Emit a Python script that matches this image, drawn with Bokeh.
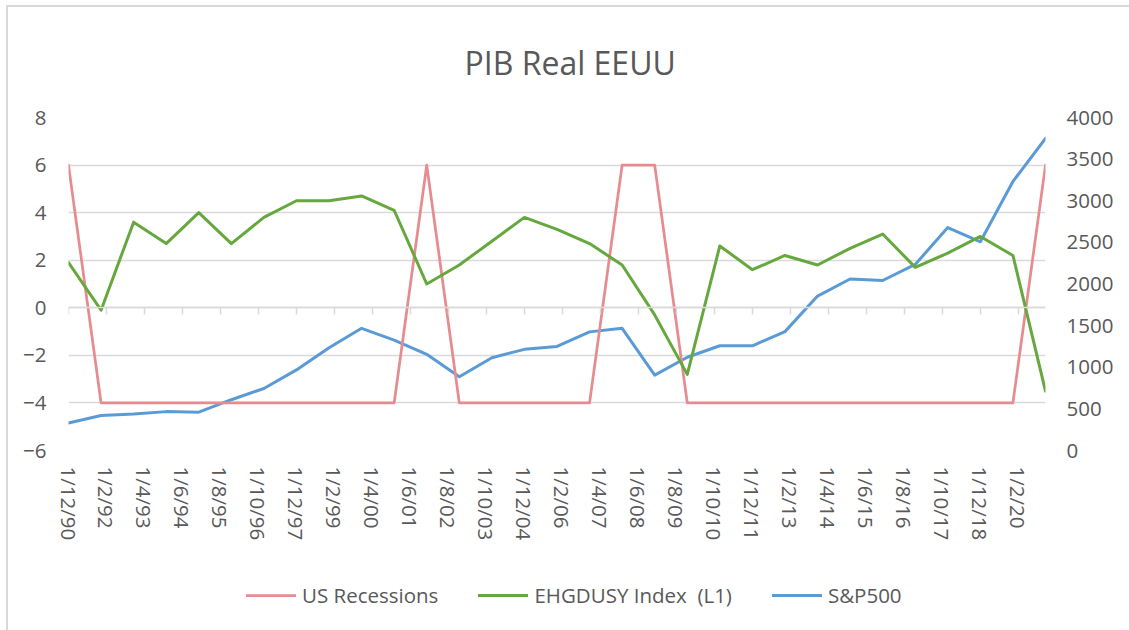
from bokeh.plotting import figure
from bokeh.layouts import column
from bokeh.models import (Range1d, LinearAxis, FixedTicker, Legend, LegendItem)
from bokeh.embed import file_html
from bokeh.resources import INLINE

# ---------------- data ----------------
fechas = ["1/12/90", "1/12/91", "1/12/92", "1/12/93", "1/12/94", "1/12/95", "1/12/96",
          "1/12/97", "1/12/98", "1/12/99", "1/12/00", "1/12/01", "1/12/02", "1/12/03",
          "1/12/04", "1/12/05", "1/12/06", "1/12/07", "1/12/08", "1/12/09", "1/12/10",
          "1/12/11", "1/12/12", "1/12/13", "1/12/14", "1/12/15", "1/12/16", "1/12/17",
          "1/12/18", "1/12/19", "1/12/20"]

us_recessions = [6, -4, -4, -4, -4, -4, -4, -4, -4, -4, -4, 6, -4, -4, -4, -4, -4, 6, 6,
                 -4, -4, -4, -4, -4, -4, -4, -4, -4, -4, -4, 6]

ehgdusy = [1.9, -0.1, 3.6, 2.7, 4.0, 2.7, 3.8, 4.5, 4.5, 4.7, 4.1, 1.0, 1.8, 2.8, 3.8,
           3.3, 2.7, 1.8, -0.3, -2.8, 2.6, 1.6, 2.2, 1.8, 2.5, 3.1, 1.7, 2.3, 3.0, 2.2, -3.5]

sp500 = [330, 420, 438, 467, 460, 610, 745, 968, 1235, 1468, 1325, 1155, 885, 1115, 1215,
         1250, 1425, 1468, 905, 1120, 1258, 1258, 1428, 1855, 2060, 2042, 2235, 2678,
         2507, 3231, 3750]

series_names = ["US Recessions", "EHGDUSY Index  (L1)", "S&P500"]

tick_labels = ["1/12/90", "1/2/92", "1/4/93", "1/6/94", "1/8/95", "1/10/96", "1/12/97",
               "1/2/99", "1/4/00", "1/6/01", "1/8/02", "1/10/03", "1/12/04", "1/2/06",
               "1/4/07", "1/6/08", "1/8/09", "1/10/10", "1/12/11", "1/2/13", "1/4/14",
               "1/6/15", "1/8/16", "1/10/17", "1/12/18", "1/2/20"]

left_ticks = [-6, -4, -2, 0, 2, 4, 6, 8]
right_ticks = [0, 500, 1000, 1500, 2000, 2500, 3000, 3500, 4000]

TITLE = "PIB Real EEUU"
FONT = "Open Sans"
TXT = "#595959"
GRID = "#d9d9d9"
FS = "20.5px"

STYLE_REC = dict(line_color="#e68c90", line_width=2.75, line_join="round", line_cap="round")
STYLE_GDP = dict(line_color="#66a83d", line_width=3, line_join="round", line_cap="round")
STYLE_SP = dict(line_color="#5b9bd5", line_width=3, line_join="round", line_cap="round")


def month_index(s):
    d, m, yy = [int(t) for t in s.split("/")]
    year = 1900 + yy if yy >= 50 else 2000 + yy
    return (year - 1990) * 12 + (m - 12)


x = [month_index(f) for f in fechas]
tick_pos = [month_index(t) for t in tick_labels]

# ---------------- main figure ----------------
p = figure(width=1121, height=553, output_backend="svg", toolbar_location=None,
           x_range=Range1d(x[0], x[-1]), y_range=Range1d(-6, 8),
           min_border_left=60, min_border_right=84, min_border_top=110,
           min_border_bottom=110)
p.outline_line_color = None
p.background_fill_color = "white"
p.border_fill_color = "white"

p.extra_y_ranges = {"sp": Range1d(0, 4000)}

# title
p.title.text = TITLE
p.title.align = "left"
p.title.offset = 396
p.title.vertical_align = "top"
p.title.standoff = 64
p.title.text_font = FONT
p.title.text_font_size = "32px"
p.title.text_font_style = "normal"
p.title.text_color = TXT

# grids
p.xgrid.visible = False
p.ygrid.ticker = FixedTicker(ticks=left_ticks)
p.ygrid.grid_line_color = GRID
p.ygrid.grid_line_width = 1.5

# label x-axis (bottom)
xa = p.xaxis[0]
xa.ticker = FixedTicker(ticks=tick_pos)
xa.major_label_overrides = {tp: lab for tp, lab in zip(tick_pos, tick_labels)}
xa.major_label_orientation = "vertical"
xa.axis_line_color = None
xa.major_tick_line_color = None
xa.minor_tick_line_color = None
xa.major_tick_out = 0
xa.major_tick_in = 0
xa.major_label_standoff = 16
xa.major_label_text_font = FONT
xa.major_label_text_font_size = FS
xa.major_label_text_color = TXT

# left axis
ya = p.yaxis[0]
ya.ticker = FixedTicker(ticks=left_ticks)
ya.axis_line_color = None
ya.major_tick_line_color = None
ya.minor_tick_line_color = None
ya.major_tick_out = 0
ya.major_tick_in = 0
ya.major_label_standoff = 22
ya.major_label_text_font = FONT
ya.major_label_text_font_size = FS
ya.major_label_text_color = TXT

# right axis
ra = LinearAxis(y_range_name="sp", ticker=FixedTicker(ticks=right_ticks),
                axis_line_color=None, major_tick_line_color=None,
                minor_tick_line_color=None, major_tick_out=0, major_tick_in=0,
                major_label_standoff=21, major_label_text_font=FONT,
                major_label_text_font_size=FS, major_label_text_color=TXT)
p.add_layout(ra, "right")

# horizontal axis line crossing at 0 with tick marks
za = LinearAxis(fixed_location=0, ticker=FixedTicker(ticks=tick_pos),
                axis_line_color=GRID, axis_line_width=1.5,
                major_tick_line_color=GRID, major_tick_line_width=1.5,
                major_tick_in=0, major_tick_out=7, minor_tick_line_color=None,
                major_label_text_alpha=0, major_label_text_font_size="1px")
p.add_layout(za, "below")

# series (drawing order: S&P500, recessions, GDP on top)
p.line(x, sp500, y_range_name="sp", **STYLE_SP)
p.line(x, us_recessions, **STYLE_REC)
p.line(x, ehgdusy, **STYLE_GDP)

# ---------------- legend strip (series drawn off-range, only legend visible) ----------------
pl = figure(width=1121, height=70, output_backend="svg", toolbar_location=None,
            x_range=Range1d(x[0], x[-1]), y_range=Range1d(-1000, -999),
            x_axis_location=None, y_axis_location=None, min_border=0)
pl.outline_line_color = None
pl.grid.visible = False
pl.background_fill_color = "white"
pl.border_fill_color = "white"

lr = pl.line(x, us_recessions, **STYLE_REC)
lg = pl.line(x, ehgdusy, **STYLE_GDP)
ls = pl.line(x, sp500, **STYLE_SP)

legend = Legend(items=[LegendItem(label=series_names[0], renderers=[lr]),
                       LegendItem(label=series_names[1], renderers=[lg]),
                       LegendItem(label=series_names[2], renderers=[ls])],
                location=(178, 21), orientation="horizontal",
                glyph_width=50, glyph_height=20, label_standoff=6, spacing=40,
                padding=0, margin=0, border_line_alpha=0, background_fill_alpha=0,
                label_text_font=FONT, label_text_font_size=FS,
                label_text_color=TXT)
pl.add_layout(legend)

layout = column(p, pl, spacing=0,
                styles={"margin-left": "6px", "margin-top": "5px",
                        "border-top": "2px solid #d9d9d9",
                        "border-left": "2px solid #d9d9d9"})

open("out.html", "w").write(file_html(layout, INLINE))
